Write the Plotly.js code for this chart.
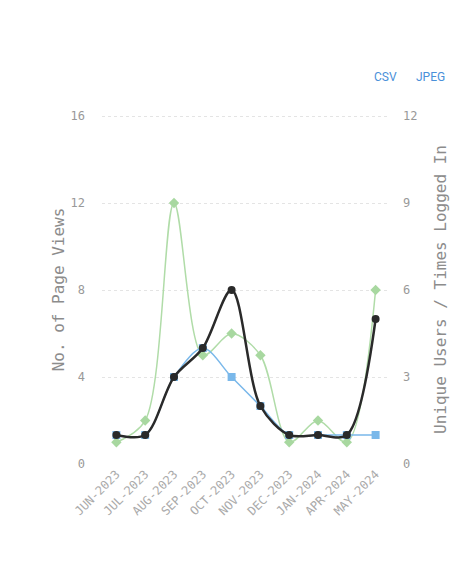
<!DOCTYPE html>
<html><head><meta charset="utf-8">
<script src="https://cdn.plot.ly/plotly-3.0.1.min.js"></script>
<style>html,body{margin:0;padding:0;background:#fff}#chart{width:475px;height:566px}</style>
</head><body><div id="chart"></div>
<script>
var months = ["JUN-2023","JUL-2023","AUG-2023","SEP-2023","OCT-2023","NOV-2023","DEC-2023","JAN-2024","APR-2024","MAY-2024"];
var pageViews = [1, 2, 12, 5, 6, 5, 1, 2, 1, 8];
var uniqueUsers = [1, 1, 3, 4, 3, 2, 1, 1, 1, 1];
var timesLoggedIn = [1, 1, 3, 4, 6, 2, 1, 1, 1, 5];
var leftTicks = [0, 4, 8, 12, 16];
var rightTicks = [0, 3, 6, 9, 12];

var fnt = "DejaVu Sans Mono, monospace";
var traces = [
  {x: months, y: pageViews, name: "Page Views", type: "scatter", mode: "lines+markers", yaxis: "y",
   line: {shape: "spline", smoothing: 0.9, color: "#b0dca8", width: 1.5},
   marker: {symbol: "diamond", size: 8, color: "#a8d8a0"}},
  {x: months, y: uniqueUsers, name: "Unique Users", type: "scatter", mode: "lines+markers", yaxis: "y2",
   line: {shape: "spline", smoothing: 0.9, color: "#7ab8ea", width: 1.5},
   marker: {symbol: "square", size: 8, color: "#7ab8ea"}},
  {x: months, y: timesLoggedIn, name: "Times Logged In", type: "scatter", mode: "lines+markers", yaxis: "y2",
   line: {shape: "spline", smoothing: 0.9, color: "#2a2a2a", width: 2.5},
   marker: {symbol: "circle", size: 8, color: "#2a2a2a"}}
];
var pw = 475 - 102 - 85, ph = 566 - 115 - 102;
var layout = {
  width: 475, height: 566,
  margin: {l: 102, r: 85, t: 115, b: 102},
  paper_bgcolor: "#fff", plot_bgcolor: "#fff",
  showlegend: false,
  font: {family: fnt, color: "#999", size: 11},
  xaxis: {type: "category", range: [-0.5, 9.5], tickangle: -45, showgrid: false, zeroline: false,
          tickfont: {family: fnt, size: 12, color: "#aaa"}, ticks: ""},
  yaxis: {range: [0, 16.05], tickvals: leftTicks, showgrid: true, gridcolor: "#e4e4e4", griddash: "dot",
          zeroline: false, ticks: "", ticklabelstandoff: 16, tickfont: {family: fnt, size: 12, color: "#999"},
          title: {text: "No. of Page Views", font: {family: fnt, size: 16, color: "#8c8c8c"}, standoff: 1}},
  yaxis2: {range: [0, 12.0375], tickvals: rightTicks, overlaying: "y", side: "right", showgrid: false,
           zeroline: false, ticks: "", ticklabelstandoff: 12, tickfont: {family: fnt, size: 12, color: "#999"},
           title: {text: "Unique Users / Times Logged In", font: {family: fnt, size: 16, color: "#8c8c8c"}, standoff: 18}},
  annotations: [
    {text: "CSV", x: (399 - 102) / pw, y: (566 - 102 - 68) / ph, xref: "paper", yref: "paper",
     xanchor: "right", showarrow: false, font: {family: "Liberation Sans Narrow, Roboto, sans-serif", size: 12, color: "#4a90d9"}},
    {text: "JPEG", x: (414 - 102) / pw, y: (566 - 102 - 68) / ph, xref: "paper", yref: "paper",
     xanchor: "left", showarrow: false, font: {family: "Liberation Sans Narrow, Roboto, sans-serif", size: 12, color: "#4a90d9"}}
  ]
};
Plotly.newPlot("chart", traces, layout, {displayModeBar: false, staticPlot: true});
</script>
</body></html>
